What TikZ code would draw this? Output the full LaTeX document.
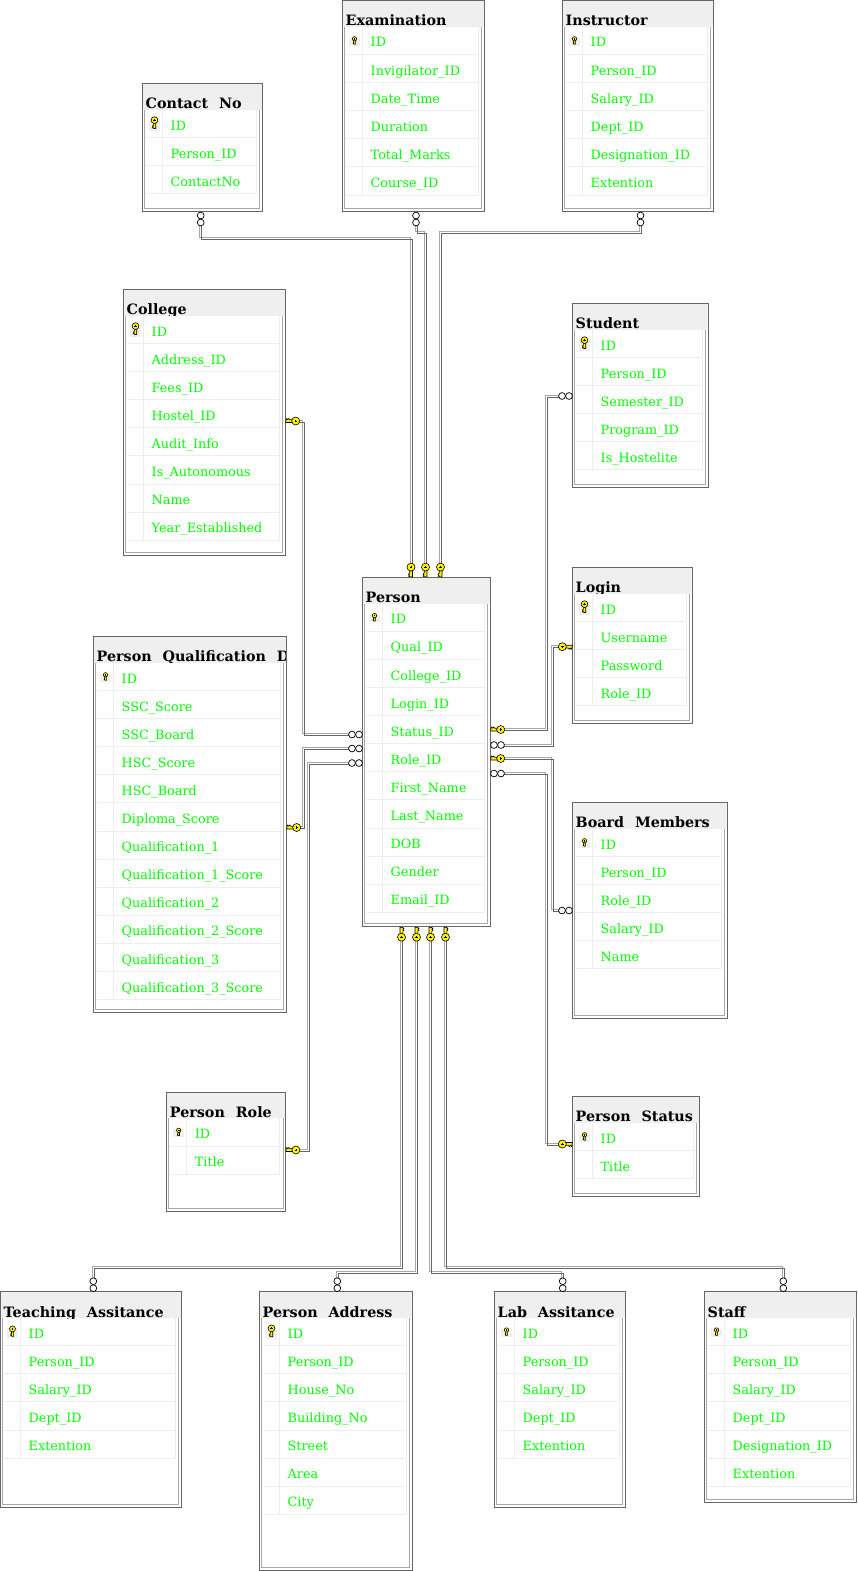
\documentclass[tikz,border=0pt]{standalone}
\usepackage{fontspec}
\setmainfont{DejaVu Serif}
\newfontfamily\titlefont[WordSpace=2.2]{DejaVu Serif}
\definecolor{frameDark}{HTML}{666666}
\definecolor{frameLight}{HTML}{A8A8A8}
\definecolor{bandGray}{HTML}{EFEFEF}
\definecolor{rowGray}{HTML}{EEEEEE}
\definecolor{textGreen}{HTML}{00FF00}
\definecolor{keyYellow}{HTML}{FFF200}
\pgfdeclarelayer{front}
\pgfsetlayers{main,front}
\tikzset{
  tableframe/.style={fill=white,inner sep=0pt,outer sep=0pt},
  frameline/.style={draw=frameDark,line width=1pt},
  titletext/.style={font=\titlefont\bfseries\fontsize{14.3}{16}\selectfont,text=black,inner sep=0pt,anchor=base west},
  rowtext/.style={font=\fontsize{12.8}{15}\selectfont,text=textGreen,inner sep=0pt,anchor=base west},
  rowline/.style={draw=rowGray,line width=0.8pt},
  innerline/.style={draw=frameLight,line width=1pt},
  conn/.style={
    preaction={draw=frameLight,line width=1pt,transform canvas={shift={(-1pt,1pt)}}},
    postaction={draw=frameDark,line width=1pt,transform canvas={shift={(1pt,-1pt)}}}},
  keybody/.style={draw=black,fill=keyYellow,line width=0.6pt,line join=round},
  crowcircle/.style={draw=black,fill=white,line width=0.7pt}
}
% key glyph: head at origin, shaft along +x
\newcommand{\keyglyph}{%
  \path[keybody] (3,-1.5) -- (10,-1.5) -- (9.8,0.6) -- (9,2.6) -- (8,1.3) -- (7,2.6) -- (6,1.3) -- (3,1.3) -- cycle;
  \path[keybody] (0,0) circle (4);
  \fill[black] (-1.2,-0.35) rectangle (1.2,0.35);
  \fill[black] (-0.35,-1.2) rectangle (0.35,1.2);
}
% \keyend{name}{x}{y}{rot}: x,y is the table edge, rot points away from the table
\newcommand{\keyend}[4]{%
  \begin{scope}[shift={(#2,#3)},rotate=#4]
    \coordinate (#1) at (10.2,0);
    \begin{pgfonlayer}{front}
      \begin{scope}[shift={(10.2,0)},rotate=180]\keyglyph\end{scope}
    \end{pgfonlayer}
  \end{scope}}
\newcommand{\crowend}[4]{%
  \begin{scope}[shift={(#2,#3)},rotate=#4]
    \coordinate (#1) at (10.5,0);
    \begin{pgfonlayer}{front}
      \path[crowcircle] (3.5,0) circle (3.4);
      \path[crowcircle] (10.5,0) circle (3.4);
    \end{pgfonlayer}
  \end{scope}}
% \dbtable{id}{x1}{y1}{x2}{y2}{title}{icon scale}{rows}
\newcommand{\dbtable}[8]{%
  \pgfmathsetmacro{\tblw}{#4-#2}\pgfmathsetmacro{\tblh}{#5-#3}
  \pgfmathsetmacro{\cx}{(#2+#4)/2}\pgfmathsetmacro{\cy}{(#3+#5)/2}
  \node[tableframe,minimum width=\tblw pt,minimum height=\tblh pt] (#1) at (\cx,\cy) {};
  \pgfmathsetmacro{\bandy}{#3+26.3}
  \begin{scope}
    \clip (#2,#3) rectangle (#4-0.5,\bandy);
    \fill[bandGray] (#2,#3) rectangle (#4,\bandy);
    \node[titletext] (#1-title) at (#2+3,#3+25.4) {#6};
  \end{scope}
  \draw[frameline] (#1.north west) rectangle (#1.south east);
  \pgfmathsetmacro{\xl}{#2+2.2}\pgfmathsetmacro{\xr}{#4-2.6}
  \pgfmathsetmacro{\ybot}{#5-2.6}\pgfmathsetmacro{\xin}{#4-6}
  \pgfmathsetmacro{\xcol}{#2+20}\pgfmathsetmacro{\xle}{#2+3}
  \draw[innerline] (\xl,\bandy) -- (\xl,\ybot) -- (\xr,\ybot) -- (\xr,\bandy);
  \foreach \rowlabel [count=\i] in {#8} {
    \pgfmathsetmacro{\ytop}{\bandy+28.1*(\i-1)}
    \pgfmathsetmacro{\ydiv}{\bandy+27.6+28.1*(\i-1)}
    \pgfmathsetmacro{\ybase}{\bandy+20.2+28.1*(\i-1)}
    \pgfmathsetmacro{\xt}{#2+28}
    \draw[rowline] (\xle,\ydiv) -- (\xin,\ydiv);
    \draw[rowline] (\xcol,\ytop) -- (\xcol,\ydiv);
    \draw[rowline] (\xin,\ytop) -- (\xin,\ydiv);
    \node[rowtext] (#1-r\i) at (\xt,\ybase) {\rowlabel};
  }
  \pgfmathsetmacro{\kx}{#2+12}\pgfmathsetmacro{\ky}{\bandy+15}
  \pgfmathsetmacro{\ks}{#7}
  \fill[bandGray] (\kx-6,\ky-7*\ks) rectangle (\kx+5,\ky+7*\ks);
  \begin{scope}[shift={(\kx,\ky-5.5*\ks)},rotate=-90,scale=\ks]\keyglyph\end{scope}
}
\begin{document}
\begin{tikzpicture}[x=1pt,y=-1pt]
\useasboundingbox (0,0) rectangle (857,1571);
\fill[white] (0,0) rectangle (857,1571);

\dbtable{exam}{342.5}{0.5}{484.5}{211.5}{Examination}{0.55}{ID,Invigilator\_ID,Date\_Time,Duration,Total\_Marks,Course\_ID}
\dbtable{instr}{562.5}{0.5}{713.5}{211.5}{Instructor}{0.55}{ID,Person\_ID,Salary\_ID,Dept\_ID,Designation\_ID,Extention}
\dbtable{contact}{142.5}{83.5}{262.5}{211.5}{Contact No}{0.85}{ID,Person\_ID,ContactNo}
\dbtable{college}{123.5}{289.5}{285.5}{555}{College}{0.85}{ID,Address\_ID,Fees\_ID,Hostel\_ID,Audit\_Info,Is\_Autonomous,Name,Year\_Established}
\dbtable{student}{572.5}{303.5}{708}{487}{Student}{0.85}{ID,Person\_ID,Semester\_ID,Program\_ID,Is\_Hostelite}
\dbtable{login}{572.5}{567.5}{692}{723.5}{Login}{0.85}{ID,Username,Password,Role\_ID}
\dbtable{person}{362.5}{577.3}{490.5}{926.5}{Person}{0.55}{ID,Qual\_ID,College\_ID,Login\_ID,Status\_ID,Role\_ID,First\_Name,Last\_Name,DOB,Gender,Email\_ID}
\dbtable{qual}{93.5}{636.5}{286.5}{1012}{Person Qualification D}{0.55}{ID,SSC\_Score,SSC\_Board,HSC\_Score,HSC\_Board,Diploma\_Score,Qualification\_1,Qualification\_1\_Score,Qualification\_2,Qualification\_2\_Score,Qualification\_3,Qualification\_3\_Score}
\dbtable{board}{572.5}{802.5}{727}{1018}{Board Members}{0.55}{ID,Person\_ID,Role\_ID,Salary\_ID,Name}
\dbtable{role}{166.7}{1092}{285.7}{1211}{Person Role}{0.55}{ID,Title}
\dbtable{status}{572.5}{1096.5}{699.5}{1196}{Person Status}{0.55}{ID,Title}
\dbtable{ta}{0.5}{1291.7}{181.5}{1507}{Teaching Assitance}{0.75}{ID,Person\_ID,Salary\_ID,Dept\_ID,Extention}
\dbtable{addr}{259.5}{1291.7}{412}{1570.5}{Person Address}{0.85}{ID,Person\_ID,House\_No,Building\_No,Street,Area,City}
\dbtable{lab}{494.5}{1291.7}{625.5}{1507}{Lab Assitance}{0.55}{ID,Person\_ID,Salary\_ID,Dept\_ID,Extention}
\dbtable{staff}{704.5}{1291.7}{856.5}{1502}{Staff}{0.55}{ID,Person\_ID,Salary\_ID,Dept\_ID,Designation\_ID,Extention}

% connector ends
\crowend{cContact}{200.7}{212}{-90}
\crowend{cExam}{416}{212}{-90}
\crowend{cInstr}{640.5}{212}{-90}
\keyend{kP1}{411}{577.3}{90}
\keyend{kP2}{425.5}{577.3}{90}
\keyend{kP3}{440.5}{577.3}{90}

\crowend{cStudent}{572.5}{396}{180}
\keyend{kPs}{490.5}{729.5}{0}
\keyend{kLogin}{572.5}{646.7}{180}
\crowend{cPl}{490.5}{745}{0}
\keyend{kPr}{490.5}{758.5}{0}
\crowend{cBoard}{572.5}{910.5}{180}
\crowend{cPst}{490.5}{773.5}{0}
\keyend{kStatus}{572.5}{1144}{180}

\crowend{cPc}{362.5}{734.5}{180}
\keyend{kCollege}{285.5}{421}{0}
\crowend{cPq}{362.5}{748.5}{180}
\keyend{kQual}{286.5}{827.5}{0}
\crowend{cPro}{362.5}{763}{180}
\keyend{kRole}{285.7}{1150}{0}

\keyend{kB1}{401.5}{927}{-90}
\keyend{kB2}{416.5}{927}{-90}
\keyend{kB3}{430.5}{927}{-90}
\keyend{kB4}{445.5}{927}{-90}
\crowend{cTa}{93.3}{1291.7}{90}
\crowend{cAddr}{337.3}{1291.7}{90}
\crowend{cLab}{562.7}{1291.7}{90}
\crowend{cStaff}{783.3}{1291.7}{90}

% connectors
\path[conn] (cContact) -- (cContact |- 0,238) -| (kP1);
\path[conn] (cExam) -- (cExam |- 0,232.5) -| (kP2);
\path[conn] (cInstr) -- (cInstr |- 0,232.5) -| (kP3);

\path[conn] (kPs) -- (kPs -| 546,0) |- (cStudent);
\path[conn] (cPl) -- (cPl -| 552,0) |- (kLogin);
\path[conn] (kPr) -- (kPr -| 552,0) |- (cBoard);
\path[conn] (cPst) -- (cPst -| 546,0) |- (kStatus);

\path[conn] (cPc) -- (cPc -| 303.5,0) |- (kCollege);
\path[conn] (cPq) -- (cPq -| 303.5,0) |- (kQual);
\path[conn] (cPro) -- (cPro -| 308.5,0) |- (kRole);

\path[conn] (kB1) -- (kB1 |- 0,1267.5) -| (cTa);
\path[conn] (kB2) -- (kB2 |- 0,1272.7) -| (cAddr);
\path[conn] (kB3) -- (kB3 |- 0,1272.7) -| (cLab);
\path[conn] (kB4) -- (kB4 |- 0,1267.5) -| (cStaff);
\end{tikzpicture}
\end{document}
